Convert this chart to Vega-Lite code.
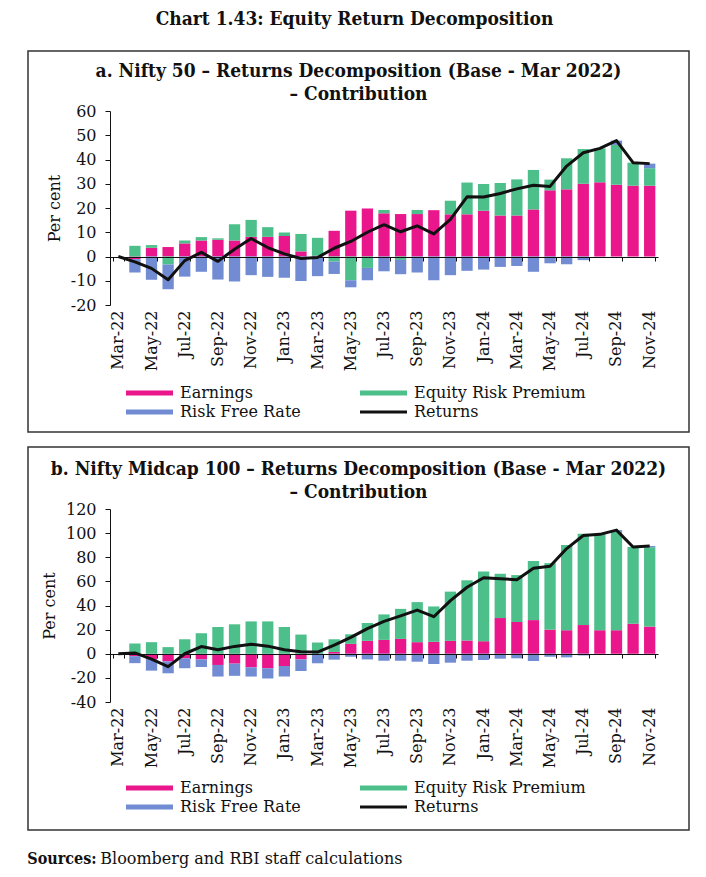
{
  "$schema": "https://vega.github.io/schema/vega-lite/v6.json",
  "background": "white",
  "padding": {"left": 27, "right": 18, "top": 10, "bottom": 4},
  "config": {
    "font": "DejaVu Serif",
    "view": {"stroke": null},
    "axis": {"labelFont": "DejaVu Serif", "titleFont": "DejaVu Serif", "labelColor": "#111", "titleColor": "#111", "domainColor": "#111", "tickColor": "#111", "grid": false},
    "title": {"color": "#111"},
    "legend": {"orient": "none", "direction": "horizontal", "legendX": 95, "columns": 2, "columnPadding": 56, "rowPadding": 3, "title": null, "labelFont": "DejaVu Serif", "labelFontSize": 16, "labelLimit": 400, "labelColor": "#111", "symbolSize": 100, "labelOffset": 41, "symbolStrokeWidth": 0}
  },
  "datasets": {
    "a": [
      {"month": "Mar-22", "Earnings": 0, "Equity Risk Premium": 0, "Risk Free Rate": 0, "Returns": 0},
      {"month": "Apr-22", "Earnings": -1.1, "Equity Risk Premium": 4.4, "Risk Free Rate": -5.5, "Returns": -2.2},
      {"month": "May-22", "Earnings": 3.6, "Equity Risk Premium": 1.1, "Risk Free Rate": -9.6, "Returns": -4.9},
      {"month": "Jun-22", "Earnings": 3.9, "Equity Risk Premium": -3.3, "Risk Free Rate": -10.2, "Returns": -9.6},
      {"month": "Jul-22", "Earnings": 5.4, "Equity Risk Premium": 1.2, "Risk Free Rate": -8.3, "Returns": -1.7},
      {"month": "Aug-22", "Earnings": 6.6, "Equity Risk Premium": 1.4, "Risk Free Rate": -6.3, "Returns": 1.7},
      {"month": "Sep-22", "Earnings": 6.9, "Equity Risk Premium": 0.6, "Risk Free Rate": -9.5, "Returns": -2.0},
      {"month": "Oct-22", "Earnings": 6.6, "Equity Risk Premium": 6.7, "Risk Free Rate": -10.3, "Returns": 3.0},
      {"month": "Nov-22", "Earnings": 8.1, "Equity Risk Premium": 7.0, "Risk Free Rate": -7.7, "Returns": 7.4},
      {"month": "Dec-22", "Earnings": 8.1, "Equity Risk Premium": 4.0, "Risk Free Rate": -8.4, "Returns": 3.7},
      {"month": "Jan-23", "Earnings": 8.5, "Equity Risk Premium": 1.4, "Risk Free Rate": -8.8, "Returns": 1.1},
      {"month": "Feb-23", "Earnings": 2.1, "Equity Risk Premium": 7.2, "Risk Free Rate": -10.1, "Returns": -0.8},
      {"month": "Mar-23", "Earnings": 0.3, "Equity Risk Premium": 7.4, "Risk Free Rate": -8.1, "Returns": -0.4},
      {"month": "Apr-23", "Earnings": 10.6, "Equity Risk Premium": -2.1, "Risk Free Rate": -5.1, "Returns": 3.4},
      {"month": "May-23", "Earnings": 18.9, "Equity Risk Premium": -9.8, "Risk Free Rate": -2.9, "Returns": 6.2},
      {"month": "Jun-23", "Earnings": 19.8, "Equity Risk Premium": -4.7, "Risk Free Rate": -5.1, "Returns": 10.0},
      {"month": "Jul-23", "Earnings": 17.8, "Equity Risk Premium": 1.4, "Risk Free Rate": -6.1, "Returns": 13.1},
      {"month": "Aug-23", "Earnings": 17.5, "Equity Risk Premium": -1.4, "Risk Free Rate": -5.9, "Returns": 10.2},
      {"month": "Sep-23", "Earnings": 17.5, "Equity Risk Premium": 1.7, "Risk Free Rate": -6.6, "Returns": 12.6},
      {"month": "Oct-23", "Earnings": 19.1, "Equity Risk Premium": 0, "Risk Free Rate": -9.8, "Returns": 9.3},
      {"month": "Nov-23", "Earnings": 17.4, "Equity Risk Premium": 5.6, "Risk Free Rate": -7.7, "Returns": 15.3},
      {"month": "Dec-23", "Earnings": 17.4, "Equity Risk Premium": 13.1, "Risk Free Rate": -5.9, "Returns": 24.6},
      {"month": "Jan-24", "Earnings": 18.9, "Equity Risk Premium": 11.0, "Risk Free Rate": -5.4, "Returns": 24.5},
      {"month": "Feb-24", "Earnings": 16.9, "Equity Risk Premium": 13.4, "Risk Free Rate": -4.3, "Returns": 26.0},
      {"month": "Mar-24", "Earnings": 16.9, "Equity Risk Premium": 14.9, "Risk Free Rate": -3.9, "Returns": 27.9},
      {"month": "Apr-24", "Earnings": 19.4, "Equity Risk Premium": 16.3, "Risk Free Rate": -6.3, "Returns": 29.4},
      {"month": "May-24", "Earnings": 27.3, "Equity Risk Premium": 4.4, "Risk Free Rate": -2.8, "Returns": 28.9},
      {"month": "Jun-24", "Earnings": 27.7, "Equity Risk Premium": 12.8, "Risk Free Rate": -3.2, "Returns": 37.3},
      {"month": "Jul-24", "Earnings": 30.0, "Equity Risk Premium": 14.3, "Risk Free Rate": -1.5, "Returns": 42.8},
      {"month": "Aug-24", "Earnings": 30.6, "Equity Risk Premium": 14.0, "Risk Free Rate": 0, "Returns": 44.6},
      {"month": "Sep-24", "Earnings": 29.6, "Equity Risk Premium": 16.4, "Risk Free Rate": 1.8, "Returns": 47.8},
      {"month": "Oct-24", "Earnings": 29.2, "Equity Risk Premium": 9.5, "Risk Free Rate": 0, "Returns": 38.7},
      {"month": "Nov-24", "Earnings": 29.2, "Equity Risk Premium": 7.2, "Risk Free Rate": 1.9, "Returns": 38.3}
    ],
    "b": [
      {"month": "Mar-22", "Earnings": 0, "Equity Risk Premium": 0, "Risk Free Rate": 0, "Returns": 0},
      {"month": "Apr-22", "Earnings": -2.0, "Equity Risk Premium": 8.5, "Risk Free Rate": -5.8, "Returns": 0.7},
      {"month": "May-22", "Earnings": -4.4, "Equity Risk Premium": 9.6, "Risk Free Rate": -9.6, "Returns": -4.4},
      {"month": "Jun-22", "Earnings": -6.3, "Equity Risk Premium": 5.5, "Risk Free Rate": -9.9, "Returns": -10.7},
      {"month": "Jul-22", "Earnings": -3.8, "Equity Risk Premium": 12.0, "Risk Free Rate": -8.2, "Returns": 0.0},
      {"month": "Aug-22", "Earnings": -4.7, "Equity Risk Premium": 17.0, "Risk Free Rate": -6.3, "Returns": 6.0},
      {"month": "Sep-22", "Earnings": -9.3, "Equity Risk Premium": 22.2, "Risk Free Rate": -9.6, "Returns": 3.3},
      {"month": "Oct-22", "Earnings": -8.2, "Equity Risk Premium": 24.4, "Risk Free Rate": -10.1, "Returns": 6.1},
      {"month": "Nov-22", "Earnings": -11.2, "Equity Risk Premium": 26.8, "Risk Free Rate": -7.7, "Returns": 7.9},
      {"month": "Dec-22", "Earnings": -12.0, "Equity Risk Premium": 26.8, "Risk Free Rate": -8.5, "Returns": 6.3},
      {"month": "Jan-23", "Earnings": -10.1, "Equity Risk Premium": 22.2, "Risk Free Rate": -8.8, "Returns": 3.3},
      {"month": "Feb-23", "Earnings": -4.7, "Equity Risk Premium": 15.9, "Risk Free Rate": -9.6, "Returns": 1.6},
      {"month": "Mar-23", "Earnings": 0, "Equity Risk Premium": 9.3, "Risk Free Rate": -7.9, "Returns": 1.4},
      {"month": "Apr-23", "Earnings": 1.5, "Equity Risk Premium": 10.5, "Risk Free Rate": -4.9, "Returns": 7.1},
      {"month": "May-23", "Earnings": 8.2, "Equity Risk Premium": 7.9, "Risk Free Rate": -2.5, "Returns": 13.6},
      {"month": "Jun-23", "Earnings": 10.7, "Equity Risk Premium": 14.8, "Risk Free Rate": -4.7, "Returns": 20.8},
      {"month": "Jul-23", "Earnings": 11.5, "Equity Risk Premium": 21.1, "Risk Free Rate": -5.8, "Returns": 26.8},
      {"month": "Aug-23", "Earnings": 12.3, "Equity Risk Premium": 24.9, "Risk Free Rate": -5.8, "Returns": 31.4},
      {"month": "Sep-23", "Earnings": 9.6, "Equity Risk Premium": 33.2, "Risk Free Rate": -6.6, "Returns": 36.2},
      {"month": "Oct-23", "Earnings": 9.9, "Equity Risk Premium": 29.3, "Risk Free Rate": -8.5, "Returns": 30.7},
      {"month": "Nov-23", "Earnings": 10.7, "Equity Risk Premium": 40.8, "Risk Free Rate": -7.4, "Returns": 44.1},
      {"month": "Dec-23", "Earnings": 11.0, "Equity Risk Premium": 49.9, "Risk Free Rate": -5.8, "Returns": 55.1},
      {"month": "Jan-24", "Earnings": 10.4, "Equity Risk Premium": 57.8, "Risk Free Rate": -5.2, "Returns": 63.0},
      {"month": "Feb-24", "Earnings": 29.6, "Equity Risk Premium": 36.7, "Risk Free Rate": -4.1, "Returns": 62.2},
      {"month": "Mar-24", "Earnings": 26.3, "Equity Risk Premium": 38.9, "Risk Free Rate": -3.8, "Returns": 61.4},
      {"month": "Apr-24", "Earnings": 27.9, "Equity Risk Premium": 49.0, "Risk Free Rate": -6.0, "Returns": 70.9},
      {"month": "May-24", "Earnings": 20.0, "Equity Risk Premium": 55.1, "Risk Free Rate": -2.5, "Returns": 72.6},
      {"month": "Jun-24", "Earnings": 19.5, "Equity Risk Premium": 70.7, "Risk Free Rate": -3.0, "Returns": 87.2},
      {"month": "Jul-24", "Earnings": 23.8, "Equity Risk Premium": 75.6, "Risk Free Rate": -1.4, "Returns": 98.0},
      {"month": "Aug-24", "Earnings": 19.5, "Equity Risk Premium": 79.5, "Risk Free Rate": 0, "Returns": 99.0},
      {"month": "Sep-24", "Earnings": 19.5, "Equity Risk Premium": 81.6, "Risk Free Rate": 1.4, "Returns": 102.5},
      {"month": "Oct-24", "Earnings": 24.9, "Equity Risk Premium": 63.6, "Risk Free Rate": 0, "Returns": 88.5},
      {"month": "Nov-24", "Earnings": 22.5, "Equity Risk Premium": 65.8, "Risk Free Rate": 1.0, "Returns": 89.3}
    ]
  },
  "title": {"text": "Sources:", "orient": "bottom", "anchor": "start", "offset": -16, "fontSize": 16, "fontWeight": "bold", "font": "DejaVu Serif Condensed, DejaVu Serif"},
  "vconcat": [
    {
      "title": {"text": "Bloomberg and RBI staff calculations", "orient": "bottom", "anchor": "start", "offset": 20, "dx": 73, "fontSize": 16, "fontWeight": "normal", "font": "DejaVu Serif"},
      "vconcat": [
        {
          "title": {"text": "Chart 1.43: Equity Return Decomposition", "anchor": "middle", "dx": -4, "fontSize": 19, "fontWeight": "bold", "font": "DejaVu Serif Condensed, DejaVu Serif", "offset": 21},
          "spacing": 13,
          "resolve": {"legend": {"color": "independent"}},
          "vconcat": [
            {
              "width": 661,
              "height": 381,
              "view": {"stroke": "#333", "strokeWidth": 1.5},
              "title": {"text": ["a. Nifty 50 – Returns Decomposition (Base - Mar 2022)", "– Contribution"], "anchor": "middle", "fontSize": 19, "fontWeight": "bold", "font": "DejaVu Serif Condensed, DejaVu Serif", "lineHeight": 23, "offset": -53},
              "data": {"name": "a"},
              "resolve": {"axis": {"x": "independent"}},
              "layer": [
                {
                  "transform": [{"fold": ["Earnings", "Equity Risk Premium", "Risk Free Rate"], "as": ["series", "value"]}],
                  "mark": {"type": "bar"},
                  "encoding": {
                    "x": {"field": "month", "type": "ordinal",
                      "scale": {"type": "band", "domain": ["Mar-22","Apr-22","May-22","Jun-22","Jul-22","Aug-22","Sep-22","Oct-22","Nov-22","Dec-22","Jan-23","Feb-23","Mar-23","Apr-23","May-23","Jun-23","Jul-23","Aug-23","Sep-23","Oct-23","Nov-23","Dec-23","Jan-24","Feb-24","Mar-24","Apr-24","May-24","Jun-24","Jul-24","Aug-24","Sep-24","Oct-24","Nov-24"], "range": [82, 630], "paddingInner": 0.32, "paddingOuter": 0.16},
                      "axis": {"orient": "bottom", "offset": -124, "domain": false, "ticks": false, "labelPadding": 2, "labelAngle": 270, "labelFontSize": 16, "title": null, "values": ["Mar-22","May-22","Jul-22","Sep-22","Nov-22","Jan-23","Mar-23","May-23","Jul-23","Sep-23","Nov-23","Jan-24","Mar-24","May-24","Jul-24","Sep-24","Nov-24"]}},
                    "y": {"field": "value", "type": "quantitative", "stack": "zero",
                      "scale": {"domain": [-20, 60], "range": [254, 60], "nice": false, "zero": false},
                      "axis": {"orient": "left", "offset": -82, "values": [-20, -10, 0, 10, 20, 30, 40, 50, 60], "tickSize": 5, "labelPadding": 9, "labelFontSize": 16, "labelExpr": "'' + datum.value", "title": "Per cent", "titleFontSize": 16, "titleFontWeight": "normal", "titlePadding": 8}},
                    "color": {"field": "series", "type": "nominal",
                      "scale": {"domain": ["Earnings", "Equity Risk Premium", "Risk Free Rate", "Returns"], "range": ["#E9168C", "#4CBF8A", "#718CD3", "#111111"]},
                      "legend": {"legendY": 334,
                        "encode": {"symbols": {"update": {"shape": {"signal": "datum.value === 'Returns' ? 'M-1,-0.3H8.4V0.3H-1Z' : 'M-1,-0.5H8.4V0.5H-1Z'"}, "fill": {"signal": "datum.value === 'Earnings' ? '#E9168C' : datum.value === 'Equity Risk Premium' ? '#4CBF8A' : datum.value === 'Risk Free Rate' ? '#718CD3' : '#111111'"}, "stroke": {"value": "transparent"}, "opacity": {"value": 1}}}}}},
                    "order": {"field": "series", "sort": "ascending"}
                  }
                },
                {
                  "mark": {"type": "line", "strokeWidth": 3, "strokeJoin": "round"},
                  "encoding": {
                    "x": {"field": "month", "type": "ordinal",
                      "scale": {"type": "band", "domain": ["Mar-22","Apr-22","May-22","Jun-22","Jul-22","Aug-22","Sep-22","Oct-22","Nov-22","Dec-22","Jan-23","Feb-23","Mar-23","Apr-23","May-23","Jun-23","Jul-23","Aug-23","Sep-23","Oct-23","Nov-23","Dec-23","Jan-24","Feb-24","Mar-24","Apr-24","May-24","Jun-24","Jul-24","Aug-24","Sep-24","Oct-24","Nov-24"], "range": [82, 630], "paddingInner": 0.32, "paddingOuter": 0.16},
                      "axis": {"orient": "top", "offset": -206, "labels": false, "title": null, "domain": true, "domainWidth": 1.2, "ticks": true, "tickSize": -4, "tickBand": "extent", "zindex": 1, "values": ["Mar-22","May-22","Jul-22","Sep-22","Nov-22","Jan-23","Mar-23","May-23","Jul-23","Sep-23","Nov-23","Jan-24","Mar-24","May-24","Jul-24","Sep-24","Nov-24"]}},
                    "y": {"field": "Returns", "type": "quantitative",
                      "scale": {"domain": [-20, 60], "range": [254, 60], "nice": false, "zero": false},
                      "axis": {"orient": "left", "offset": -82, "values": [-20, -10, 0, 10, 20, 30, 40, 50, 60], "tickSize": 5, "labelPadding": 9, "labelFontSize": 16, "labelExpr": "'' + datum.value", "title": "Per cent", "titleFontSize": 16, "titleFontWeight": "normal", "titlePadding": 8}},
                    "color": {"datum": "Returns"}
                  }
                }
              ]
            },
            {
              "width": 661,
              "height": 383,
              "view": {"stroke": "#333", "strokeWidth": 1.5},
              "title": {"text": ["b. Nifty Midcap 100 – Returns Decomposition (Base - Mar 2022)", "– Contribution"], "anchor": "middle", "fontSize": 19, "fontWeight": "bold", "font": "DejaVu Serif Condensed, DejaVu Serif", "lineHeight": 23, "offset": -55},
              "data": {"name": "b"},
              "resolve": {"axis": {"x": "independent"}},
              "layer": [
                {
                  "transform": [{"fold": ["Earnings", "Equity Risk Premium", "Risk Free Rate"], "as": ["series", "value"]}],
                  "mark": {"type": "bar"},
                  "encoding": {
                    "x": {"field": "month", "type": "ordinal",
                      "scale": {"type": "band", "domain": ["Mar-22","Apr-22","May-22","Jun-22","Jul-22","Aug-22","Sep-22","Oct-22","Nov-22","Dec-22","Jan-23","Feb-23","Mar-23","Apr-23","May-23","Jun-23","Jul-23","Aug-23","Sep-23","Oct-23","Nov-23","Dec-23","Jan-24","Feb-24","Mar-24","Apr-24","May-24","Jun-24","Jul-24","Aug-24","Sep-24","Oct-24","Nov-24"], "range": [82, 630], "paddingInner": 0.32, "paddingOuter": 0.16},
                      "axis": {"orient": "bottom", "offset": -125, "domain": false, "ticks": false, "labelPadding": 2, "labelAngle": 270, "labelFontSize": 16, "title": null, "values": ["Mar-22","May-22","Jul-22","Sep-22","Nov-22","Jan-23","Mar-23","May-23","Jul-23","Sep-23","Nov-23","Jan-24","Mar-24","May-24","Jul-24","Sep-24","Nov-24"]}},
                    "y": {"field": "value", "type": "quantitative", "stack": "zero",
                      "scale": {"domain": [-40, 120], "range": [255, 62], "nice": false, "zero": false},
                      "axis": {"orient": "left", "offset": -82, "values": [-40, -20, 0, 20, 40, 60, 80, 100, 120], "tickSize": 5, "labelPadding": 9, "labelFontSize": 16, "labelExpr": "'' + datum.value", "title": "Per cent", "titleFontSize": 16, "titleFontWeight": "normal", "titlePadding": 8}},
                    "color": {"field": "series", "type": "nominal",
                      "scale": {"domain": ["Earnings", "Equity Risk Premium", "Risk Free Rate", "Returns"], "range": ["#E9168C", "#4CBF8A", "#718CD3", "#111111"]},
                      "legend": {"legendY": 333,
                        "encode": {"symbols": {"update": {"shape": {"signal": "datum.value === 'Returns' ? 'M-1,-0.3H8.4V0.3H-1Z' : 'M-1,-0.5H8.4V0.5H-1Z'"}, "fill": {"signal": "datum.value === 'Earnings' ? '#E9168C' : datum.value === 'Equity Risk Premium' ? '#4CBF8A' : datum.value === 'Risk Free Rate' ? '#718CD3' : '#111111'"}, "stroke": {"value": "transparent"}, "opacity": {"value": 1}}}}}},
                    "order": {"field": "series", "sort": "ascending"}
                  }
                },
                {
                  "mark": {"type": "line", "strokeWidth": 3, "strokeJoin": "round"},
                  "encoding": {
                    "x": {"field": "month", "type": "ordinal",
                      "scale": {"type": "band", "domain": ["Mar-22","Apr-22","May-22","Jun-22","Jul-22","Aug-22","Sep-22","Oct-22","Nov-22","Dec-22","Jan-23","Feb-23","Mar-23","Apr-23","May-23","Jun-23","Jul-23","Aug-23","Sep-23","Oct-23","Nov-23","Dec-23","Jan-24","Feb-24","Mar-24","Apr-24","May-24","Jun-24","Jul-24","Aug-24","Sep-24","Oct-24","Nov-24"], "range": [82, 630], "paddingInner": 0.32, "paddingOuter": 0.16},
                      "axis": {"orient": "top", "offset": -207, "labels": false, "title": null, "domain": true, "domainWidth": 1.2, "ticks": true, "tickSize": -4, "tickBand": "extent", "zindex": 1, "values": ["Mar-22","May-22","Jul-22","Sep-22","Nov-22","Jan-23","Mar-23","May-23","Jul-23","Sep-23","Nov-23","Jan-24","Mar-24","May-24","Jul-24","Sep-24","Nov-24"]}},
                    "y": {"field": "Returns", "type": "quantitative",
                      "scale": {"domain": [-40, 120], "range": [255, 62], "nice": false, "zero": false},
                      "axis": {"orient": "left", "offset": -82, "values": [-40, -20, 0, 20, 40, 60, 80, 100, 120], "tickSize": 5, "labelPadding": 9, "labelFontSize": 16, "labelExpr": "'' + datum.value", "title": "Per cent", "titleFontSize": 16, "titleFontWeight": "normal", "titlePadding": 8}},
                    "color": {"datum": "Returns"}
                  }
                }
              ]
            }
          ]
        }
      ]
    }
  ]
}
